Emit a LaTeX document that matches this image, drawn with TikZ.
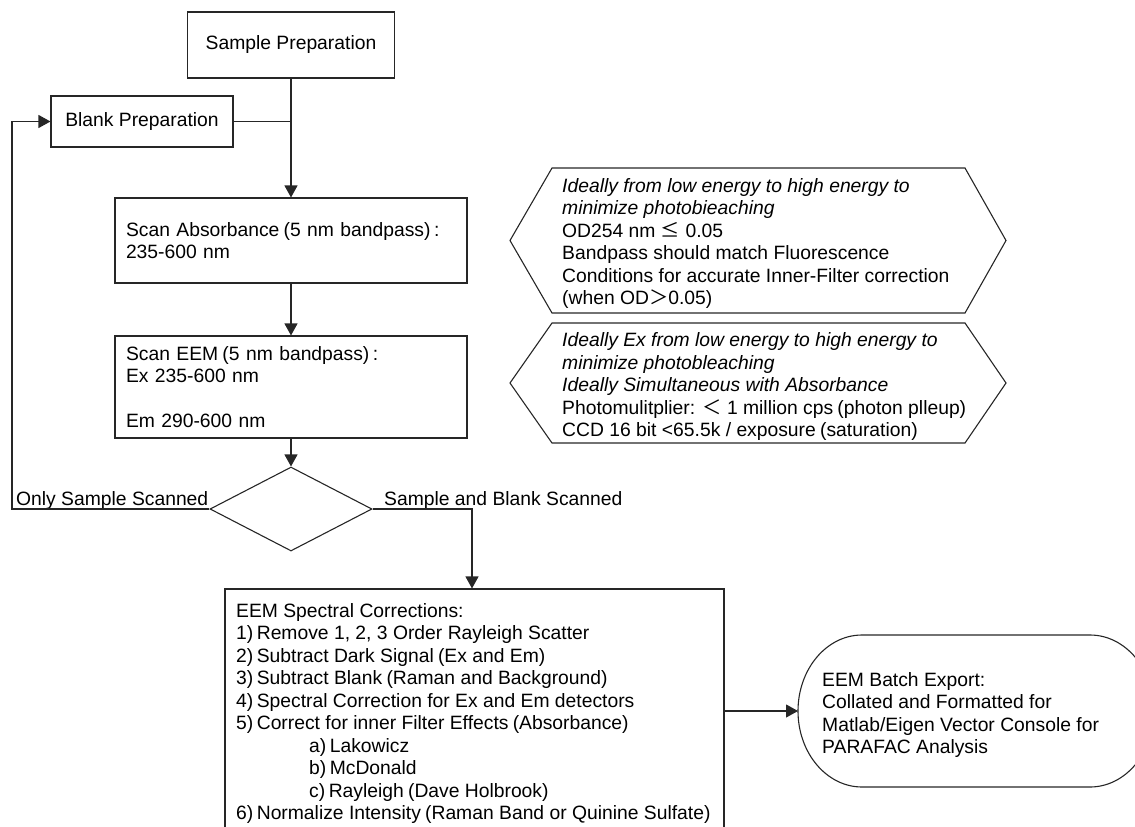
\documentclass[tikz,border=0pt]{standalone}
\usepackage{fontspec}
\setmainfont{Liberation Sans}
\newfontfamily\cjk{Noto Sans CJK JP}
\usetikzlibrary{arrows.meta,shapes.geometric,calc}
\newcommand{\LPar}{\hspace{0.22em}(}
\newcommand{\RPar}{)\hspace{0.18em}}
\begin{document}
\begin{tikzpicture}[x=1pt,y=-1pt,
  every node/.style={font=\fontsize{19.3}{22.5}\selectfont, text=black},
  line/.style={line width=1.1pt, draw=black!85},
  arr/.style={line, -{Triangle[length=12pt,width=13pt]}},
  box/.style={draw=black!85, line width=1.1pt, rectangle, inner sep=0pt},
  txt/.style={inner sep=0pt, align=left}
]
\useasboundingbox (0,0) rectangle (1135,827);

% main column
\node[box, minimum width=207pt, minimum height=66pt] (sample) at (291,45) {Sample Preparation};
\node[box, minimum width=182pt, minimum height=51pt] (blank) at (142,121.5) {Blank Preparation};
\node[box, minimum width=352pt, minimum height=85pt, text width=330pt, align=left] (scan) at (291,240.5)
  {Scan Absorbance\LPar 5 nm bandpass\RPar:\\235-600 nm};
\node[box, minimum width=352pt, minimum height=102pt, text width=330pt, align=left] (eem) at (291,387)
  {Scan EEM\LPar 5 nm bandpass\RPar:\\Ex 235-600 nm\\\mbox{}\\Em 290-600 nm};
\node[draw=black!85, line width=1.1pt, diamond, aspect=1.93, minimum width=162pt, minimum height=84pt, inner sep=0pt] (dec) at (291,509) {};
\node[box, minimum width=499pt, minimum height=248pt] (corr) at (474.5,713) {};
\node[txt, anchor=north west] (corrtext) at (236,603)
  {EEM Spectral Corrections:\\
   1\RPar Remove 1, 2, 3 Order Rayleigh Scatter\\
   2\RPar Subtract Dark Signal\LPar Ex and Em\RPar\\
   3\RPar Subtract Blank\LPar Raman and Background\RPar\\
   4\RPar Spectral Correction for Ex and Em detectors\\
   5\RPar Correct for inner Filter Effects\LPar Absorbance\RPar\\
   \hspace*{73pt}a\RPar Lakowicz\\
   \hspace*{73pt}b\RPar McDonald\\
   \hspace*{73pt}c\RPar Rayleigh\LPar Dave Holbrook\RPar\\
   6\RPar Normalize Intensity\LPar Raman Band or Quinine Sulfate\RPar};

% notes (hexagons)
\draw[line] (510,240.5) -- (552,168) -- (965,168) -- (1006,240.5) -- (965,313) -- (552,313) -- cycle;
\node[txt, anchor=west] (noteA) at (562,243.5)
  {{\itshape Ideally from low energy to high energy to}\\
   {\itshape minimize photobieaching}\\
   OD254 nm {\cjk ≤} 0.05\\
   Bandpass should match Fluorescence\\
   Conditions for accurate Inner-Filter correction\\
   (when OD{\cjk ＞}0.05)};
\draw[line] (510,383) -- (552,323) -- (965,323) -- (1006,383) -- (965,443) -- (552,443) -- cycle;
\node[txt, anchor=west] (noteB) at (562,387)
  {{\itshape Ideally Ex from low energy to high energy to}\\
   {\itshape minimize photobleaching}\\
   {\itshape Ideally Simultaneous with Absorbance}\\
   Photomulitplier: {\cjk ＜} 1 million cps\LPar photon plleup\RPar\\
   CCD 16 bit <65.5k / exposure\LPar saturation\RPar};

% export terminal
\draw[line] (862,635) -- (1090,635) arc[start angle=90, end angle=-90, x radius=64pt, y radius=76pt]
  -- (862,787) arc[start angle=270, end angle=90, x radius=64pt, y radius=76pt] -- cycle;
\node[txt, anchor=west] (exptext) at (822,715)
  {EEM Batch Export:\\Collated and Formatted for\\Matlab/Eigen Vector Console for\\PARAFAC Analysis};
\coordinate (expL) at (798,711);

% labels
\node[inner sep=0pt, anchor=base west] (lblA) at (16,505) {Only Sample Scanned};
\node[inner sep=0pt, anchor=base west] (lblB) at (384,505) {Sample and Blank Scanned};

% connectors
\coordinate (loopc) at (12,509);
\coordinate (drop) at (472,509);
\draw[arr] (sample) -- (scan);
\draw[line] (blank.east) -- (blank.east -| sample.south);
\draw[arr] (scan) -- (eem);
\draw[arr] (eem) -- (dec);
\draw[arr] (dec.west) -- (loopc) |- (blank.west);
\draw[arr] (dec.east) -- (drop) -- (corr.north -| drop);
\draw[arr] (corr.east |- expL) -- (expL);
\end{tikzpicture}
\end{document}
